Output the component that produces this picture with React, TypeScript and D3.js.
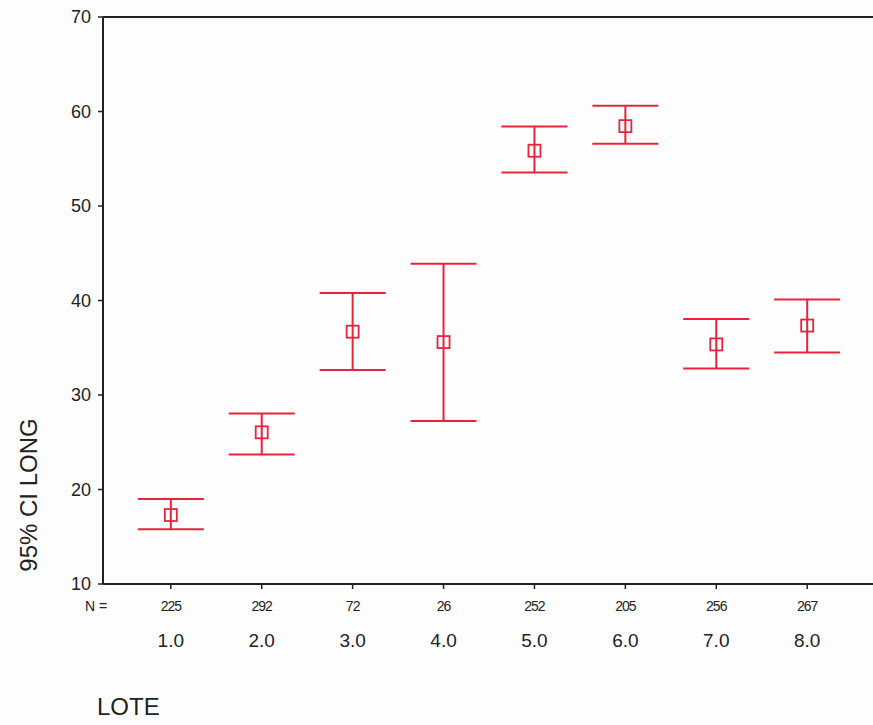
import React from "react";
import * as d3 from "d3";

const categories = ["1.0", "2.0", "3.0", "4.0", "5.0", "6.0", "7.0", "8.0"];
const counts = [225, 292, 72, 26, 252, 205, 256, 267];
const means = [17.3, 26.05, 36.7, 35.6, 55.85, 58.45, 35.35, 37.35];
const lower = [15.8, 23.7, 32.65, 27.25, 53.55, 56.6, 32.8, 34.5];
const upper = [19.0, 28.05, 40.8, 43.9, 58.4, 60.6, 38.05, 40.1];
const yTicks = [10, 20, 30, 40, 50, 60, 70];

const W = 873;
const H = 725;
const left = 103;
const top = 17;
const bottom = 584;
const right = 875;

export default function App() {
  const y = d3.scaleLinear().domain([10, 70]).range([bottom, top]);
  const x = d3.scaleLinear().domain([0.254, 8.746]).range([left, right]);
  const red = "#e8243c";
  const font = "'Liberation Sans', Arial, sans-serif";
  return (
    <svg width={W} height={H} style={{ position: "absolute", left: 0, top: 0, background: "#fff" }}>
      <rect x={0} y={0} width={W} height={H} fill="#fdfdfe" />
      <line x1={left} y1={top} x2={right} y2={top} stroke="#222" strokeWidth={2} />
      <line x1={left} y1={top} x2={left} y2={bottom} stroke="#222" strokeWidth={2} />
      <line x1={left} y1={bottom} x2={right} y2={bottom} stroke="#222" strokeWidth={2} />
      {yTicks.map((t) => (
        <g key={t}>
          <line x1={left - 5} x2={left} y1={y(t)} y2={y(t)} stroke="#222" strokeWidth={1.5} />
          <text x={left - 12} y={y(t)} dy="0.35em" textAnchor="end" fontFamily={font} fontSize={18} fill="#222">
            {t}
          </text>
        </g>
      ))}
      {categories.map((c, i) => {
        const cx = x(i + 1);
        return (
          <g key={c}>
            <line x1={cx} x2={cx} y1={bottom} y2={bottom + 5} stroke="#222" strokeWidth={1.5} />
            <text x={cx} y={611} textAnchor="middle" fontFamily={font} fontSize={14} fill="#222" letterSpacing={-1}>
              {counts[i]}
            </text>
            <text x={cx} y={647} textAnchor="middle" fontFamily={font} fontSize={19} fill="#222">
              {c}
            </text>
            <line x1={cx} x2={cx} y1={y(upper[i])} y2={y(lower[i])} stroke={red} strokeWidth={2} />
            <line x1={cx - 33} x2={cx + 33} y1={y(upper[i])} y2={y(upper[i])} stroke={red} strokeWidth={2} />
            <line x1={cx - 33} x2={cx + 33} y1={y(lower[i])} y2={y(lower[i])} stroke={red} strokeWidth={2} />
            <rect x={cx - 6} y={y(means[i]) - 6} width={12} height={12} fill="none" stroke={red} strokeWidth={1.8} />
          </g>
        );
      })}
      <text x={85} y={611} fontFamily={font} fontSize={14} fill="#222">N =</text>
      <text x={97} y={715} fontFamily={font} fontSize={24} fill="#222">LOTE</text>
      <text
        transform={`translate(37, ${495}) rotate(-90)`}
        textAnchor="middle"
        fontFamily={font}
        fontSize={24}
        fill="#222"
      >
        95% CI LONG
      </text>
    </svg>
  );
}
